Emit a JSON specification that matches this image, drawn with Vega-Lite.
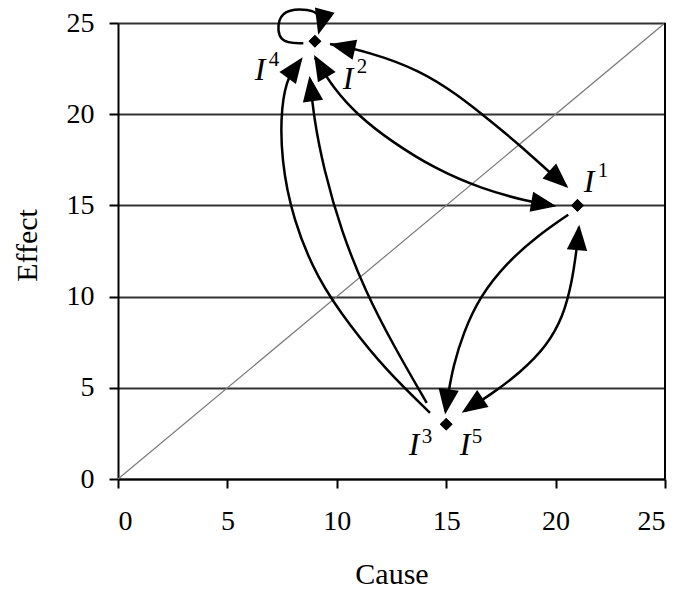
{
  "$schema": "https://vega.github.io/schema/vega-lite/v6.json",
  "width": 547,
  "height": 456,
  "autosize": {"type": "none"},
  "padding": {"left": 118, "top": 23, "right": 22, "bottom": 115},
  "background": "white",
  "config": {"view": {"stroke": null}, "font": "Liberation Serif"},
  "datasets": {
    "pts": [
      {"name": "I1", "x": 21, "y": 15},
      {"name": "I2", "x": 9, "y": 24},
      {"name": "I3", "x": 15, "y": 3}
    ],
    "diag": [{"x": 0, "y": 0, "i": 0}, {"x": 25, "y": 25, "i": 1}],
    "border": [{"x": 25, "y": 0, "y2": 25}],
    "curves": [
      {"c": "A", "i": 0, "x": 9.69, "y": 23.85},
      {"c": "A", "i": 1, "x": 11.52, "y": 23.4},
      {"c": "A", "i": 2, "x": 13.8, "y": 22.4},
      {"c": "A", "i": 3, "x": 15.48, "y": 21.1},
      {"c": "A", "i": 4, "x": 17.0, "y": 19.65},
      {"c": "A", "i": 5, "x": 18.37, "y": 18.3},
      {"c": "A", "i": 6, "x": 19.59, "y": 16.95},
      {"c": "A", "i": 7, "x": 20.5, "y": 16.05},
      {"c": "B", "i": 0, "x": 9.0, "y": 23.1},
      {"c": "B", "i": 1, "x": 9.85, "y": 21.4},
      {"c": "B", "i": 2, "x": 11.0, "y": 19.9},
      {"c": "B", "i": 3, "x": 12.5, "y": 18.5},
      {"c": "B", "i": 4, "x": 14.5, "y": 17.0},
      {"c": "B", "i": 5, "x": 16.64, "y": 15.9},
      {"c": "B", "i": 6, "x": 18.64, "y": 15.25},
      {"c": "B", "i": 7, "x": 19.9, "y": 14.98},
      {"c": "C", "i": 0, "x": 14.26, "y": 3.63},
      {"c": "C", "i": 1, "x": 12.3, "y": 5.9},
      {"c": "C", "i": 2, "x": 10.6, "y": 8.4},
      {"c": "C", "i": 3, "x": 9.1, "y": 11.0},
      {"c": "C", "i": 4, "x": 8.0, "y": 14.2},
      {"c": "C", "i": 5, "x": 7.45, "y": 17.5},
      {"c": "C", "i": 6, "x": 7.45, "y": 20.5},
      {"c": "C", "i": 7, "x": 7.8, "y": 22.2},
      {"c": "C", "i": 8, "x": 8.35, "y": 22.95},
      {"c": "D", "i": 0, "x": 14.11, "y": 4.17},
      {"c": "D", "i": 1, "x": 12.6, "y": 7.3},
      {"c": "D", "i": 2, "x": 11.3, "y": 10.3},
      {"c": "D", "i": 3, "x": 10.2, "y": 13.6},
      {"c": "D", "i": 4, "x": 9.4, "y": 17.0},
      {"c": "D", "i": 5, "x": 8.95, "y": 19.8},
      {"c": "D", "i": 6, "x": 8.78, "y": 21.9},
      {"c": "E", "i": 0, "x": 20.58, "y": 14.49},
      {"c": "E", "i": 1, "x": 19.14, "y": 13.3},
      {"c": "E", "i": 2, "x": 17.76, "y": 11.84},
      {"c": "E", "i": 3, "x": 16.54, "y": 10.01},
      {"c": "E", "i": 4, "x": 15.78, "y": 8.01},
      {"c": "E", "i": 5, "x": 15.32, "y": 6.18},
      {"c": "E", "i": 6, "x": 15.1, "y": 4.72},
      {"c": "E", "i": 7, "x": 14.97, "y": 3.7},
      {"c": "F", "i": 0, "x": 21.07, "y": 13.8},
      {"c": "F", "i": 1, "x": 20.96, "y": 12.57},
      {"c": "F", "i": 2, "x": 20.74, "y": 10.74},
      {"c": "F", "i": 3, "x": 20.35, "y": 8.92},
      {"c": "F", "i": 4, "x": 19.59, "y": 7.27},
      {"c": "F", "i": 5, "x": 18.37, "y": 5.82},
      {"c": "F", "i": 6, "x": 17.15, "y": 4.72},
      {"c": "F", "i": 7, "x": 15.85, "y": 3.72},
      {"c": "L", "i": 0, "x": 8.47, "y": 23.89},
      {"c": "L", "i": 1, "x": 7.3, "y": 23.89},
      {"c": "L", "i": 2, "x": 7.3, "y": 25.3},
      {"c": "L", "i": 3, "x": 7.8, "y": 25.75},
      {"c": "L", "i": 4, "x": 8.7, "y": 25.75},
      {"c": "L", "i": 5, "x": 9.25, "y": 25.5},
      {"c": "L", "i": 6, "x": 9.2, "y": 24.6}
    ],
    "arrows": [
      {"c": "A", "x": 9.69, "y": 23.85, "a": 283},
      {"c": "A", "x": 20.58, "y": 15.95, "a": 132},
      {"c": "B", "x": 8.96, "y": 23.24, "a": 330},
      {"c": "B", "x": 20.04, "y": 14.96, "a": 100},
      {"c": "C", "x": 8.44, "y": 23.12, "a": 36},
      {"c": "D", "x": 8.75, "y": 22.1, "a": 352},
      {"c": "E", "x": 14.95, "y": 3.53, "a": 188},
      {"c": "F", "x": 15.71, "y": 3.63, "a": 236},
      {"c": "F", "x": 21.08, "y": 13.94, "a": 5},
      {"c": "L", "x": 9.15, "y": 24.35, "a": 195}
    ],
    "labels": [
      {"x": 21.53, "y": 16.29, "t": "I"},
      {"x": 10.51, "y": 21.93, "t": "I"},
      {"x": 6.49, "y": 22.43, "t": "I"},
      {"x": 13.53, "y": 1.89, "t": "I"},
      {"x": 15.86, "y": 1.89, "t": "I"}
    ],
    "sups": [
      {"x": 22.17, "y": 16.9, "t": "1"},
      {"x": 11.15, "y": 22.59, "t": "2"},
      {"x": 7.13, "y": 22.97, "t": "4"},
      {"x": 14.12, "y": 2.33, "t": "3"},
      {"x": 16.41, "y": 2.33, "t": "5"}
    ]
  },
  "layer": [
    {
      "data": {"name": "pts"},
      "mark": {"type": "point", "shape": "diamond", "filled": true, "color": "black", "opacity": 1, "size": 160},
      "encoding": {
        "x": {
          "field": "x", "type": "quantitative",
          "scale": {"domain": [0, 25], "nice": false, "zero": false},
          "axis": {
            "title": "Cause", "values": [0, 5, 10, 15, 20, 25], "grid": false,
            "domainColor": "black", "domainWidth": 2, "tickColor": "black", "tickWidth": 2, "tickSize": 9,
            "labelFontSize": 28, "labelColor": "black", "labelPadding": 19, "labelFont": "Liberation Serif",
            "titleFontSize": 30, "titleFontWeight": "normal", "titleColor": "black", "titleFont": "Liberation Serif",
            "titleY": 104, "titleBaseline": "alphabetic"
          }
        },
        "y": {
          "field": "y", "type": "quantitative",
          "scale": {"domain": [0, 25], "nice": false, "zero": false},
          "axis": {
            "title": "Effect", "values": [0, 5, 10, 15, 20, 25], "grid": true,
            "gridColor": "#333333", "gridWidth": 2, "gridOpacity": 1,
            "domainColor": "black", "domainWidth": 2, "tickColor": "black", "tickWidth": 2, "tickSize": 9,
            "labelFontSize": 28, "labelColor": "black", "labelPadding": 15, "labelFont": "Liberation Serif",
            "titleFontSize": 30, "titleFontWeight": "normal", "titleColor": "black", "titleFont": "Liberation Serif",
            "titleX": -91, "titleY": 222, "titleBaseline": "middle"
          }
        }
      }
    },
    {
      "data": {"name": "diag"},
      "mark": {"type": "line", "color": "#7a7a7a", "strokeWidth": 1.2},
      "encoding": {
        "x": {"field": "x", "type": "quantitative"},
        "y": {"field": "y", "type": "quantitative"},
        "order": {"field": "i"}
      }
    },
    {
      "data": {"name": "border"},
      "mark": {"type": "rule", "color": "black", "strokeWidth": 2},
      "encoding": {
        "x": {"field": "x", "type": "quantitative"},
        "y": {"field": "y", "type": "quantitative"},
        "y2": {"field": "y2"}
      }
    },
    {
      "data": {"name": "curves"},
      "mark": {"type": "line", "interpolate": "basis", "color": "black", "strokeWidth": 2.5},
      "encoding": {
        "x": {"field": "x", "type": "quantitative"},
        "y": {"field": "y", "type": "quantitative"},
        "detail": {"field": "c"},
        "order": {"field": "i"}
      }
    },
    {
      "data": {"name": "arrows"},
      "mark": {"type": "point", "shape": "M0,0L0.4,1L-0.4,1Z", "filled": true, "color": "black", "opacity": 1, "size": 2600, "strokeWidth": 0},
      "encoding": {
        "x": {"field": "x", "type": "quantitative"},
        "y": {"field": "y", "type": "quantitative"},
        "angle": {"field": "a", "type": "quantitative", "scale": null}
      }
    },
    {
      "data": {"name": "pts"},
      "mark": {"type": "point", "shape": "diamond", "filled": true, "color": "black", "opacity": 1, "size": 160},
      "encoding": {
        "x": {"field": "x", "type": "quantitative"},
        "y": {"field": "y", "type": "quantitative"}
      }
    },
    {
      "data": {"name": "labels"},
      "mark": {"type": "text", "font": "Liberation Serif", "fontStyle": "italic", "fontSize": 32, "color": "black", "align": "center", "baseline": "middle"},
      "encoding": {
        "x": {"field": "x", "type": "quantitative"},
        "y": {"field": "y", "type": "quantitative"},
        "text": {"field": "t"}
      }
    },
    {
      "data": {"name": "sups"},
      "mark": {"type": "text", "font": "Liberation Serif", "fontSize": 21, "color": "black", "align": "center", "baseline": "middle"},
      "encoding": {
        "x": {"field": "x", "type": "quantitative"},
        "y": {"field": "y", "type": "quantitative"},
        "text": {"field": "t"}
      }
    }
  ]
}
